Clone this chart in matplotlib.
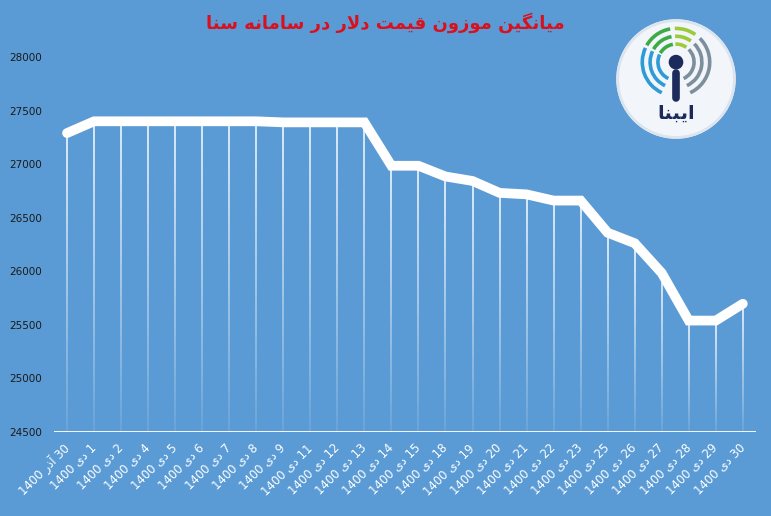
import numpy as np
import matplotlib
matplotlib.use("Agg")
import matplotlib.pyplot as plt
from matplotlib.collections import LineCollection
from matplotlib.patches import Circle, Arc

# ---------------- data ----------------
days = ["30 آذر", "1 دی", "2 دی", "4 دی", "5 دی", "6 دی", "7 دی", "8 دی", "9 دی",
        "11 دی", "12 دی", "13 دی", "14 دی", "15 دی", "18 دی", "19 دی", "20 دی",
        "21 دی", "22 دی", "23 دی", "25 دی", "26 دی", "27 دی", "28 دی", "29 دی", "30 دی"]
year = "1400"
values = [27290, 27400, 27400, 27400, 27400, 27400, 27400, 27400, 27390,
          27390, 27390, 27390, 26985, 26985, 26885, 26843, 26732, 26718,
          26660, 26660, 26360, 26262, 25984, 25540, 25540, 25697]
yticks = [24500, 25000, 25500, 26000, 26500, 27000, 27500, 28000]
title = "میانگین موزون قیمت دلار در سامانه سنا"
logo_text = "ایبنا"

# ------------- simple Persian shaping (visual order) -------------
FORMS = {  # isolated, final, initial, medial
    'ا': ('\uFE8D', '\uFE8E'), 'آ': ('\uFE81', '\uFE82'),
    'د': ('\uFEA9', '\uFEAA'), 'ذ': ('\uFEAB', '\uFEAC'),
    'ر': ('\uFEAD', '\uFEAE'), 'ز': ('\uFEAF', '\uFEB0'),
    'و': ('\uFEED', '\uFEEE'),
    'ه': ('\uFEE9', '\uFEEA', '\uFEEB', '\uFEEC'),
    'م': ('\uFEE1', '\uFEE2', '\uFEE3', '\uFEE4'),
    'ن': ('\uFEE5', '\uFEE6', '\uFEE7', '\uFEE8'),
    'ی': ('\uFBFC', '\uFBFD', '\uFBFE', '\uFBFF'),
    'گ': ('\uFB92', '\uFB93', '\uFB94', '\uFB95'),
    'ق': ('\uFED5', '\uFED6', '\uFED7', '\uFED8'),
    'ت': ('\uFE95', '\uFE96', '\uFE97', '\uFE98'),
    'ل': ('\uFEDD', '\uFEDE', '\uFEDF', '\uFEE0'),
    'س': ('\uFEB1', '\uFEB2', '\uFEB3', '\uFEB4'),
    'ب': ('\uFE8F', '\uFE90', '\uFE91', '\uFE92'),
}


def shape_word(w):
    chars = list(w)
    out = []
    i = 0
    n = len(chars)
    while i < n:
        c = chars[i]
        prev = chars[i - 1] if i > 0 else None
        join_prev = prev in FORMS and len(FORMS[prev]) == 4
        if c == 'ل' and i + 1 < n and chars[i + 1] == 'ا':
            out.append('\uFEFC' if join_prev else '\uFEFB')
            i += 2
            continue
        if c not in FORMS:
            out.append(c)
            i += 1
            continue
        f = FORMS[c]
        nxt = chars[i + 1] if i + 1 < n else None
        join_next = len(f) == 4 and nxt in FORMS
        if join_prev and join_next:
            out.append(f[3])
        elif join_prev:
            out.append(f[1])
        elif join_next:
            out.append(f[2])
        else:
            out.append(f[0])
        i += 1
    return ''.join(reversed(out))


def rtl(text):
    words = text.split(' ')
    res = []
    for w in reversed(words):
        if any(ch in FORMS for ch in w):
            res.append(shape_word(w))
        else:
            res.append(w)
    return ' '.join(res)


xlabels = [rtl(d + " " + year) for d in days]

# ---------------- figure ----------------
BG = '#5B9BD5'
fig = plt.figure(figsize=(7.71, 5.16), dpi=100, facecolor=BG)
ax = fig.add_axes([0.0694, 0.1628, 0.9116, 0.7267], facecolor=BG)
x = np.arange(len(values))
ymin, ymax = yticks[0], yticks[-1]

# gradient drop lines
for xi, v in zip(x, values):
    ys = np.linspace(ymin, v, 40)
    segs = [[(xi, ys[k]), (xi, ys[k + 1])] for k in range(len(ys) - 1)]
    alphas = np.linspace(0.10, 1.0, len(segs)) ** 0.9
    cols = [(1, 1, 1, a) for a in alphas]
    ax.add_collection(LineCollection(segs, colors=cols, linewidths=1.1, zorder=2))

ax.plot(x, values, color='white', lw=7.0, solid_capstyle='round',
        solid_joinstyle='miter', zorder=3)
ax.axhline(ymin, color='white', lw=1.3, zorder=2)

ax.set_xlim(-0.5, len(values) - 0.5)
ax.set_ylim(ymin, ymax)
ax.set_yticks(yticks)
ax.set_yticklabels([str(t) for t in yticks], fontsize=7.5, color='#1a1a1a',
                   family='DejaVu Sans')
ax.set_xticks(x)
ax.set_xticklabels(xlabels, rotation=45, ha='right', va='center',
                   rotation_mode='anchor', fontsize=8.4, color='white',
                   family='DejaVu Sans')
ax.tick_params(axis='both', length=0)
ax.tick_params(axis='y', pad=8)
ax.tick_params(axis='x', pad=10)
for s in ax.spines.values():
    s.set_visible(False)

fig.text(0.5, 0.957, rtl(title), ha='center', va='center', color='#D9101E',
         fontsize=13, fontweight='bold', family='DejaVu Sans')

# ---------------- logo ----------------
lax = fig.add_axes([614 / 771, 1 - 141 / 516, 124 / 771, 124 / 516])
lax.set_xlim(-1.03, 1.03)
lax.set_ylim(-1.03, 1.03)
lax.set_aspect('equal')
lax.axis('off')
lax.add_patch(Circle((0, 0), 0.98, color='#F2F6FA', zorder=1))
lax.add_patch(Circle((0, 0), 0.97, fill=False, ec='#DCE5EE', lw=2, zorder=1))
cx, cy = 0.0, 0.28
radii = [0.30, 0.43, 0.56]
for r in radii:
    lax.add_patch(Arc((cx, cy), 2 * r, 2 * r, theta1=155, theta2=245,
                      color='#2E9BD6', lw=2.6, zorder=2))
    lax.add_patch(Arc((cx, cy), 2 * r, 2 * r, theta1=-65, theta2=45,
                      color='#7D8E9C', lw=2.6, zorder=2))
    lax.add_patch(Arc((cx, cy), 2 * r, 2 * r, theta1=100, theta2=150,
                      color='#3DAA48', lw=2.6, zorder=2))
    lax.add_patch(Arc((cx, cy), 2 * r, 2 * r, theta1=55, theta2=92,
                      color='#9BCB3B', lw=2.6, zorder=2))
lax.add_patch(Circle((cx, cy), 0.11, color='#1C2A5C', zorder=3))
lax.plot([cx, cx], [0.10, -0.32], color='#1C2A5C', lw=5.5, solid_capstyle='round',
         zorder=3)
lax.text(0.0, -0.57, rtl(logo_text), ha='center', va='center', color='#1C2A5C',
         fontsize=14, fontweight='bold', family='DejaVu Sans', zorder=3)

fig.savefig('out.png', dpi=100, facecolor=BG)
